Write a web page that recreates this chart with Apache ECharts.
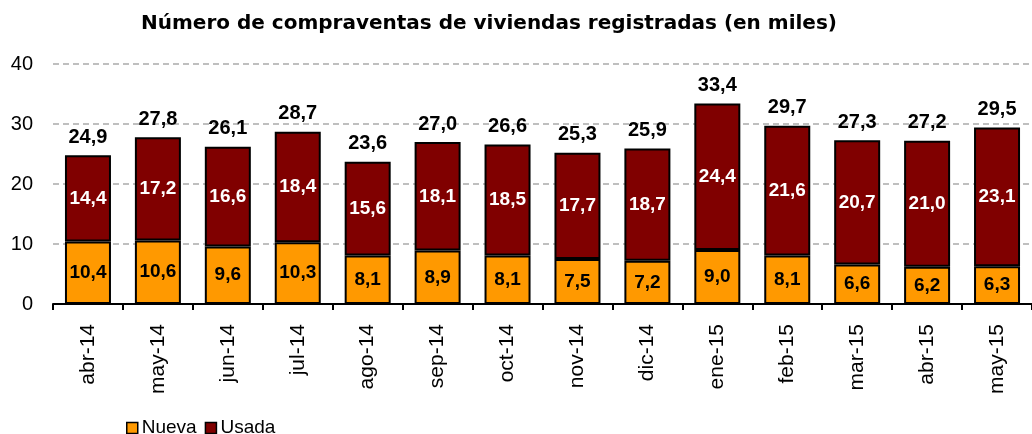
<!DOCTYPE html>
<html><head><meta charset="utf-8">
<script src="https://cdn.jsdelivr.net/npm/echarts@6/dist/echarts.min.js"></script>
<style>html,body{margin:0;padding:0;background:#fff}#c{width:1032px;height:434px}</style>
</head><body><div id="c"></div>
<script>
const categories = ['abr-14','may-14','jun-14','jul-14','ago-14','sep-14','oct-14','nov-14','dic-14','ene-15','feb-15','mar-15','abr-15','may-15'];
const nueva = [10.4,10.6,9.6,10.3,8.1,8.9,8.1,7.5,7.2,9.0,8.1,6.6,6.2,6.3];
const usada = [14.4,17.2,16.6,18.4,15.6,18.1,18.5,17.7,18.7,24.4,21.6,20.7,21.0,23.1];
const totals = [24.9,27.8,26.1,28.7,23.6,27.0,26.6,25.3,25.9,33.4,29.7,27.3,27.2,29.5];
const yTicks = [0,10,20,30,40];

const fmt = v => v.toFixed(1).replace('.', ',');
const font = 'Liberation Sans, Arial, sans-serif';
const chart = echarts.init(document.getElementById('c'));
chart.setOption({
  animation:false,
  textStyle:{fontFamily:font},
  title:{text:'Número de compraventas de viviendas registradas (en miles)',left:484,textAlign:'center',top:9,
    textStyle:{fontFamily:'DejaVu Sans',fontSize:20,fontWeight:'bold',color:'#000'}},
  legend:{data:['Nueva','Usada'],left:121,top:413,height:20,itemWidth:11,itemHeight:11,itemGap:8,
    textStyle:{fontFamily:font,fontSize:19,lineHeight:20,color:'#000',padding:[0,0,0,-1]},icon:'rect',
    itemStyle:{borderColor:'#000',borderWidth:1.5}},
  grid:{left:53,right:-1,top:64,bottom:130,containLabel:false},
  xAxis:{type:'category',data:categories,
    axisLine:{lineStyle:{color:'#000',width:2}},
    axisTick:{show:true,length:6,lineStyle:{color:'#000',width:2},alignWithLabel:false},
    axisLabel:{rotate:90,fontSize:21,color:'#000',margin:20,fontFamily:font}},
  yAxis:{type:'value',min:yTicks[0],max:yTicks[yTicks.length-1],interval:10,
    axisLine:{show:false},axisTick:{show:false},
    axisLabel:{fontSize:20,color:'#000',margin:20,fontFamily:font},
    splitLine:{lineStyle:{color:'#bfbfbf',type:[6,4],width:2}}},
  series:[
    {name:'Nueva',type:'bar',stack:'s',data:nueva,barWidth:46,
      itemStyle:{color:'#FF9900',borderColor:'#000',borderWidth:2},
      label:{show:true,position:'inside',formatter:p=>fmt(p.value),color:'#000',fontWeight:'bold',fontSize:19,fontFamily:font}},
    {name:'Usada',type:'bar',stack:'s',data:usada,barWidth:46,
      itemStyle:{color:'#800000',borderColor:'#000',borderWidth:2},
      label:{show:true,position:'inside',formatter:p=>fmt(p.value),color:'#fff',fontWeight:'bold',fontSize:19,fontFamily:font}},
    {name:'Total',type:'bar',stack:'s',data:totals.map(()=>0),barWidth:46,
      itemStyle:{color:'transparent'},
      label:{show:true,position:'top',distance:8,formatter:p=>fmt(totals[p.dataIndex]),color:'#000',fontWeight:'bold',fontSize:20,fontFamily:font}}
  ]
});
</script></body></html>
